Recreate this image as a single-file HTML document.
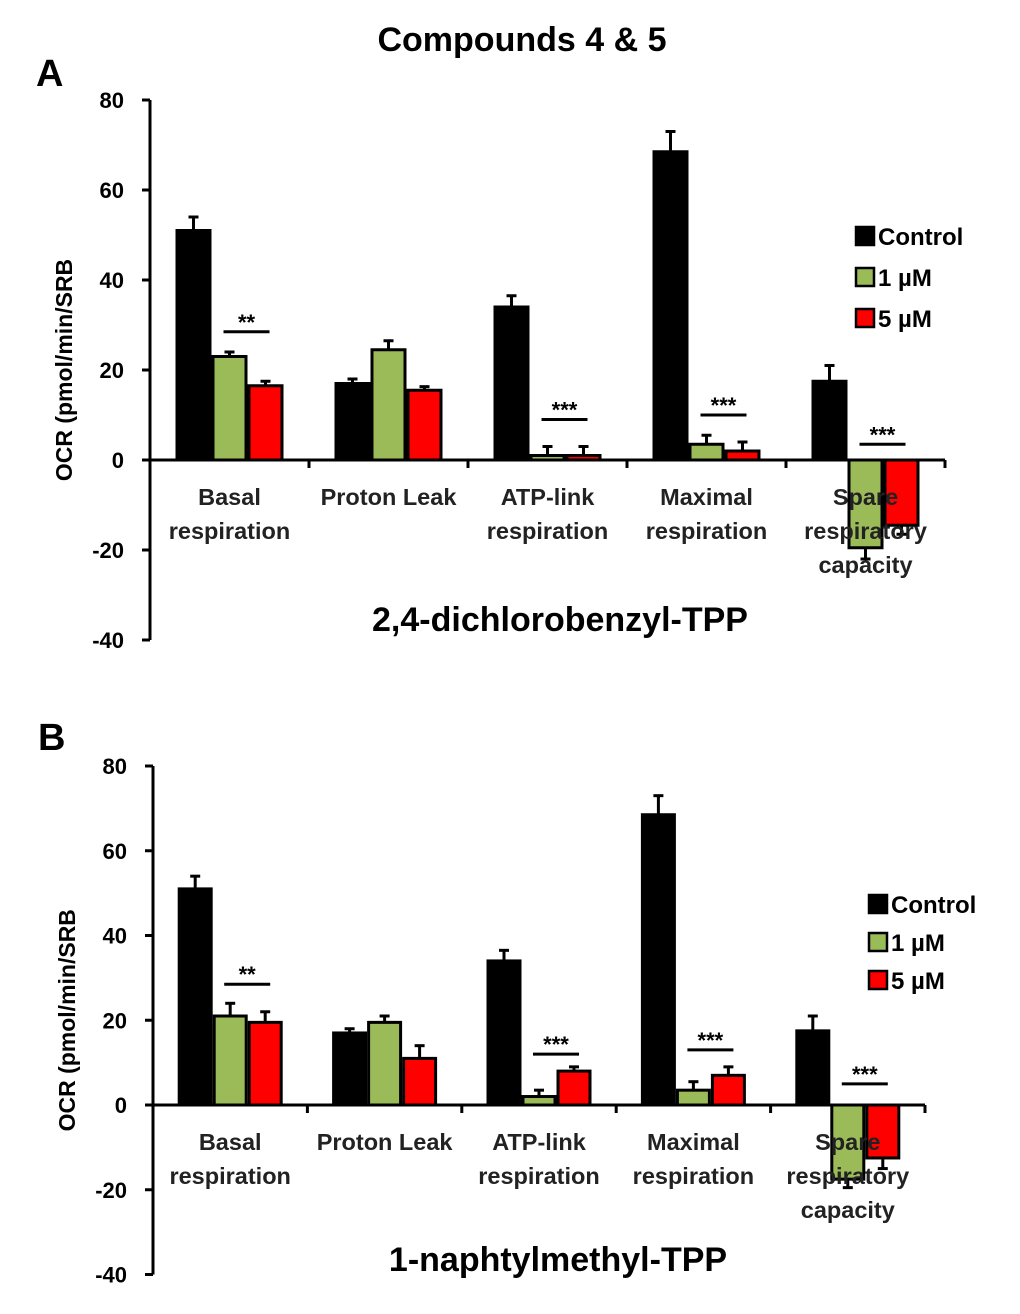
<!DOCTYPE html>
<html><head><meta charset="utf-8"><style>
body{margin:0;background:#fff;}
svg{display:block;font-family:"Liberation Sans",sans-serif;}
</style></head><body>
<svg id="svg" width="1020" height="1314" viewBox="0 0 1020 1314">
<text x="522" y="51" text-anchor="middle" font-size="34" font-weight="bold">Compounds 4 &amp; 5</text>
</svg>
<script>
const categories = [["Basal","respiration"],["Proton Leak"],["ATP-link","respiration"],["Maximal","respiration"],["Spare","respiratory","capacity"]];
const seriesNames = ["Control","1 µM","5 µM"];
const yTicks = [80,60,40,20,0,-20,-40];
const ctrlA = [51,17,34,68.5,17.5];
const lowA = [23,24.5,1,3.5,-19.5];
const highA = [16.5,15.5,1,2,-14.5];
const ctrlErrA = [3,1,2.5,4.5,3.5];
const lowErrA = [1,2,2,2,2.5];
const highErrA = [1,0.8,2,2,2];
const sigA = ["**","","***","***","***"];
const sigValA = [28.5,0,9,10,3.5];
const ctrlB = [51,17,34,68.5,17.5];
const lowB = [21,19.5,2,3.5,-17.5];
const highB = [19.5,11,8,7,-12.5];
const ctrlErrB = [3,1,2.5,4.5,3.5];
const lowErrB = [3,1.5,1.5,2,2];
const highErrB = [2.5,3,1,2,2.5];
const sigB = ["**","","***","***","***"];
const sigValB = [28.5,0,12,13,5];
const svg = document.getElementById('svg');
const NS = 'http://www.w3.org/2000/svg';
function mk(tag, attrs, parent){const e=document.createElementNS(NS,tag);for(const k in attrs)e.setAttribute(k,attrs[k]);(parent||svg).appendChild(e);return e;}
const colors = ["#000","#9BBB59","#FF0000"];
function chart(cfg){
  const g = mk('g',{});
  
  
  const y = v => cfg.y0 + (cfg.y80 - cfg.y0) * v / 80;
  const gw = (cfg.xEnd - cfg.xAxis) / categories.length;
  const cx = i => cfg.xAxis + gw * (i + 0.5);
  const bw = cfg.bw;
  const data = [cfg.c, cfg.l, cfg.h], errs = [cfg.ce, cfg.le, cfg.he];
  for (let i=0;i<categories.length;i++){
    for (let s=0;s<3;s++){
      const v = data[s][i], x = cx(i) + (s-1)*bw - bw/2;
      const top = Math.min(y(v), y(0)), hgt = Math.abs(y(v)-y(0));
      const r = mk('rect',{x:x+1.5,y:top,width:bw-3,height:hgt,fill:colors[s],stroke:'#000','stroke-width':3},g);
      
      
      const ev = v>=0 ? v+errs[s][i] : v-errs[s][i];
      mk('line',{x1:x+bw/2,x2:x+bw/2,y1:y(v),y2:y(ev),stroke:'#000','stroke-width':3},g);
      mk('line',{x1:x+bw/2-5,x2:x+bw/2+5,y1:y(ev),y2:y(ev),stroke:'#000','stroke-width':3},g);
    }
    if (cfg.sig[i]){
      const ly = y(cfg.sigV[i]);
      mk('line',{x1:cx(i)-6,x2:cx(i)+40,y1:ly,y2:ly,stroke:'#000','stroke-width':3},g);
      const t = mk('text',{x:cx(i)+17,y:ly-2,'text-anchor':'middle','font-size':22,'font-weight':'bold'},g);
      t.textContent = cfg.sig[i];
      
      
    }
    const lines = categories[i];
    lines.forEach((ln,k)=>{
      const t = mk('text',{x:cx(i),y:y(0)+45+k*34,'text-anchor':'middle','font-size':23.5,'font-weight':'bold',fill:'#222'},g);
      t.textContent = ln;
      
      
    });
    mk('line',{x1:cfg.xAxis+gw*(i+1),x2:cfg.xAxis+gw*(i+1),y1:y(0),y2:y(0)+8,stroke:'#000','stroke-width':3},g);
  }
  mk('line',{x1:cfg.xAxis,x2:cfg.xEnd,y1:y(0),y2:y(0),stroke:'#000','stroke-width':3},g);
  mk('line',{x1:cfg.xAxis,x2:cfg.xAxis,y1:y(80),y2:y(-40),stroke:'#000','stroke-width':3},g);
  yTicks.forEach(v=>{
    mk('line',{x1:cfg.xAxis-8,x2:cfg.xAxis,y1:y(v),y2:y(v),stroke:'#000','stroke-width':3},g);
    const t = mk('text',{x:cfg.xAxis-26,y:y(v)+8,'text-anchor':'end','font-size':22,'font-weight':'bold'},g);
    t.textContent = v;
    
    
  });
  const yt = mk('text',{x:0,y:0,'text-anchor':'middle','font-size':23,'font-weight':'bold',transform:`translate(${cfg.xAxis-78},${y(20)}) rotate(-90)`},g);
  yt.textContent = 'OCR (pmol/min/SRB';
  
  
  const pl = mk('text',{x:cfg.panelX,y:cfg.panelY,'font-size':38,'font-weight':'bold'},g);
  pl.textContent = cfg.panel;
  
  
  const st = mk('text',{x:cfg.subX,y:cfg.subY,'text-anchor':'middle','font-size':34,'font-weight':'bold'},g);
  st.textContent = cfg.sub;
  
  
  seriesNames.forEach((n,s)=>{
    const ly = cfg.legY + s*cfg.legDy;
    const r = mk('rect',{x:cfg.legX,y:ly-9,width:18,height:18,fill:colors[s],stroke:'#000','stroke-width':2.5},g);
    
    
    const t = mk('text',{x:cfg.legX+22,y:ly+9,'font-size':24,'font-weight':'bold'},g);
    t.textContent = n;
    
    
  });
}
chart({name:'chart-a',y0:460,y80:100,xAxis:150,xEnd:945,bw:36,c:ctrlA,l:lowA,h:highA,ce:ctrlErrA,le:lowErrA,he:highErrA,sig:sigA,sigV:sigValA,panel:'A',panelX:36,panelY:86,sub:'2,4-dichlorobenzyl-TPP',subX:560,subY:631,legX:856,legY:236,legDy:41});
chart({name:'chart-b',y0:1105,y80:766,xAxis:153,xEnd:925,bw:35,c:ctrlB,l:lowB,h:highB,ce:ctrlErrB,le:lowErrB,he:highErrB,sig:sigB,sigV:sigValB,panel:'B',panelX:38,panelY:750,sub:'1-naphtylmethyl-TPP',subX:558,subY:1271,legX:869,legY:904,legDy:38});
</script>
</body></html>
